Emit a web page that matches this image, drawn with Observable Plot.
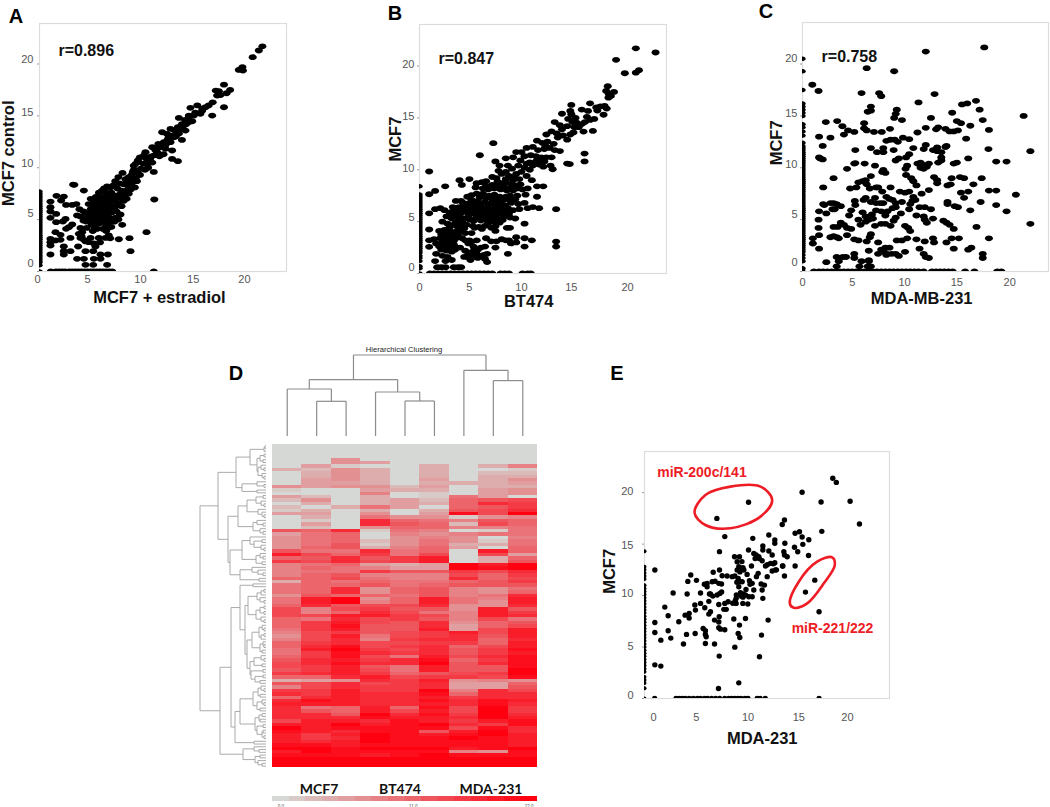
<!DOCTYPE html>
<html><head><meta charset="utf-8">
<script src="https://cdn.jsdelivr.net/npm/d3@7"></script>
<script src="https://cdn.jsdelivr.net/npm/@observablehq/plot@0.6"></script>
<style>
html,body{margin:0;background:#fff}
#page{position:relative;width:1050px;height:807px;overflow:hidden;font-family:"Liberation Sans",Arial,sans-serif}
#page svg{position:absolute;background:transparent}
.lab{position:absolute;transform:translate(-50%,-50%);white-space:nowrap;color:#000;font-weight:700}
</style></head><body><div id="page"></div>
<script>
// ---------- Panel A: MCF7 + estradiol vs MCF7 control
const ptsA=[[21.75,21.7],[21.4,21.3],[20.8,20.65],[19.8,19.7],[19.45,19.43],[19.85,19.36],[19.65,19.5],[18,18],[18.6,17.5],[18.25,17.18],[17.2,17.44],[17.5,17.37],[17.33,16.95],[18,15.83],[17.66,17],[16.85,15.03],[16.9,16.3],[16.5,16],[16.2,15.83],[15.87,15.5],[15.4,16],[15.7,15.2],[14.73,15.77],[15.06,15.03],[14.57,15.03],[13.6,14.8],[14.9,14.48],[14.4,14.39],[14.08,14.07],[13.76,13.74],[14.24,13.58],[13.43,13.42],[12.78,13.74],[11.97,13.42],[12.45,13.26],[13.1,12.94],[13.9,12.68],[12.78,12.46],[12.13,12.46],[11.8,11.98],[11,11.98],[12.29,11.82],[12.94,11.66],[11.48,11.5],[10.34,11.5],[12.1,11.3],[11.7,11.1],[12.94,10.85],[13.5,10.63],[14.6,14.9],[14.2,14.6],[13.9,14.2],[13.5,13.9],[13.2,13.6],[12.9,13.1],[12.5,12.7],[12.3,12.2],[11.9,12.0],[11.5,11.9],
[11.2,11.2],[10.9,11.1],[10.7,10.6],[11.0,10.5],[10.4,10.9],[10.1,10.4],[10.2,11.2],[9.8,11.0],[9.6,10.7],[9.4,10.4],[9.9,9.9],[10.3,9.8],[10.6,10.0],[11.15,9.6],[9.6,9.5],[9.2,9.8],[9.0,9.3],[9.4,9.0],[9.8,9.3],[8.7,9.1],[8.4,8.9],[8.1,9.5],[7.7,9.1],[7.4,8.7],[7.8,8.5],[8.2,8.4],[8.6,8.3],[9.0,8.5],[9.3,8.1],[8.9,7.9],[8.4,7.7],[8.0,7.8],[7.6,8.0],[7.2,8.3],[6.9,8.1],[6.6,8.2],[6.3,8.0],[7.0,7.6],[7.4,7.3],[7.8,7.1],[8.3,7.2],[8.7,7.5],[7.2,7.0],[7.6,6.6],[6.9,7.1],[6.5,7.6],[6.1,7.8],[5.8,7.6],[5.5,7.2],
[5.0,7.0],[5.3,6.7],[5.6,6.9],[5.9,6.6],[6.2,7.2],[6.4,6.8],[6.7,6.5],[7.0,6.3],[7.3,6.1],[7.1,5.7],[7.5,5.8],[7.9,5.5],[6.8,5.9],[6.5,6.2],[6.2,6.4],[5.9,6.1],[5.6,6.3],[5.3,6.2],[5.0,6.0],[4.8,6.5],[4.6,5.6],[4.9,5.4],[5.2,5.6],[5.5,5.8],[5.8,5.5],[6.1,5.7],[6.4,5.5],[6.7,5.3],[7.0,5.0],[7.4,5.2],[6.2,5.2],[5.9,5.0],[5.6,5.2],[5.3,5.0],[5.0,4.9],[4.6,4.8],[4.3,4.9],[4.0,5.3],[4.3,5.8],[5.1,4.5],[5.4,4.6],[5.8,4.6],[6.1,4.8],[6.4,4.9],[6.8,4.7],[7.0,4.3],[6.5,4.4],[6.2,4.1],[5.6,4.1],[6.5,3.9],[6.9,3.2],[7.3,4.8],[6.0,7.1],[6.3,6.9],[5.7,6.6],[7.7,6.4],[8.2,6.8],[8.5,7.0],[8.0,6.3],[3.6,6.5],[3.9,6.0],
[11.2,6.94],[10.44,3.79],[8.88,1.96],[8.78,3.21],[7.74,3.11],[8.07,4.5],[7.84,5.46],[7.7,5.0],
[3.28,8.38],[3.4,8.35],[4.33,7.8],[1.66,7.29],[2.37,7.22],[2.11,6.84],[1.07,6.74],[2.6,6.42],[3.19,6.42],[1.07,6.2],[1.07,5.78],[1.63,5.55],[1.07,5.17],[2.54,5.07],[1.63,4.75],[2.28,4.82],[3.67,5.4],[3.19,4.53],[2.86,4.27],[2.6,4.11],[1.56,3.79],[2.05,3.53],[4,4.2],[4.16,3.79],[3.84,3.63],[1.07,3.15],[1.07,2.83],[1.07,2.5],[1.56,2.99],[2.05,3.05],[3.02,3.24],[4,3.24],[3.77,2.41],[2.37,2.41],[2.37,1.96],[2.37,1.64],[3.02,1.96],[1.07,1.64],[3.67,1.22],[4.33,1.22],[4.49,1.96],[5.24,1.96],[5.3,1.22],[4.49,0.64],[5.24,0.64],[5.95,1.64],[6.67,1.64],[5.95,1.22],[6.6,0.64],[5.46,2.41],[4.81,2.83],[4.33,3.05],[4.98,3.24],[5.79,3.24],[6.44,3.24],[6.76,3.47],[4.6,4.2],[5.2,3.9],[4.1,3.4],[4.5,2.9],[5.3,2.7],[5.9,2.8]];
const moreA=[[12.6,12.9],[13.3,13],[13.6,13.3],[14.3,14.2],[14.6,14.4],[15.2,15.3],[15.9,15.7],[11.3,11.7],[11.6,12.3],[10.8,10.9],[10.5,10.3],[9.2,10.2],[9.1,9.6],[8.5,8.6],[8.8,8.8],[9.5,8.7],[7.9,7.5],[8.6,7.9],[7.1,7.4],[6.7,7.3],[6,6.8],[6.9,6.7],[7.4,6.8],[6.3,6.1],[6.6,5.7],[5.2,6.5],[5.7,6],[5,5.2],[6,5.3],[4.7,5.2],[5.4,4.2],[6.7,4.2]];
const leftA=[0,0.6,0.9,1.1,1.3,1.5,1.7,1.9,2.1,2.3,2.5,2.7,2.9,3.1,3.3,3.5,3.7,3.9,4.1,4.3,4.5,4.7,4.9,5.1,5.3,5.5,5.7,5.9,6.1,6.3,6.5,6.7,6.9,7.1,7.3,7.5,7.7];
const bottomA=[1.1,1.6,1.9,2.2,2.5,2.9,3.2,3.5,3.8,4.1,4.4,4.7,5.0,5.3,5.6,5.9,6.2,6.5,6.8,7.1,11.15];
// ---------- Panel B: BT474 vs MCF7
const ptsB=[[20.8,21.7],[22.7,21.3],[18.9,20.6],[19.74,19.3],[20.8,19.36],[21.1,19.6],[18.1,18.05],[17.95,17.6],[18.7,17.5],[18.2,17.3],[18.4,17.1],[18.17,16.95],[14.6,16.25],[16.4,16.4],[15.6,15.8],[16.2,15.67],[17,16],[17.4,16.1],[17.8,16.15],[17.1,15.7],[18,15.9],[17.7,15.3],[16.1,15.1],[16.8,14.9],[16.4,14.8],[16.67,13.74],[15.77,13.68],[15,15],[14.5,15.67],[14.6,15.35],[13.7,15.4],[15.1,14.55],[15.6,14.4],[15.3,14.1],[14.8,13.6],[14.5,13.4],[14.2,12.9],[13,14.6],[13.5,14.3],[14.2,14.2],[14.7,14.6],[12.7,13.7],[12.2,13.4],[13.2,13.5],[13.7,13.9],[7.1,12.56],[5.8,11.4],[0.93,9.83],[13.14,6.2],[13.14,3.08],[13.14,2.6],[15.87,11.56],[15.87,10.8],[14.2,10.6],[14.45,10.55],[12.6,10.4],[12.8,10.05],[13.5,11.8],[11.3,12.8],[11.8,12.6],[12.3,12.7],[12.9,12.5],[12.5,12.1],[13,11.9],[12,12],[11.4,11.9],[10.9,12.2],[10.3,12.1],[9.3,11.7],[9.8,11.7],[10.1,11.3],[10.7,11.4],[11.2,11.3],[11.7,11.2],[12.2,11.2],[12.7,11.2],[11.2,10.8],[10.6,10.7],[9.7,10.9],[9,11.2],[8.3,11.1],[7.3,10.8],[7.7,10.4],[8.5,10.4],[8.9,10.1],[9.5,10.4],[10.1,10.2],[10.6,10],[11.5,10.5],[11.9,10.3],[9.8,9.8],[9.3,9.6],[8.3,9.8],[7.6,9.9],[7,9.3],[7.4,9.2],[7.9,9.6],[8.6,9.4],[9,9],[9.6,9.1],[10.3,9.4],[10.8,9],[11.3,8.4],[11.9,8.4],[8.8,8.6],[8.3,8.8],[7.9,8.7],[9.3,8.5],[9.7,8.6],[3.85,9],[4.8,9.1],[2.47,8.4],[4.07,8.54],[1.5,7.96],[0.93,7.64],[5.5,8.7],[6,8.8],[6.4,8.9],[5.4,8.3],[6.1,8.2],[6.6,8.1],[7.2,8.2],[7.8,8.1],[8.4,8],[9,8],[5.5,7.7],[6.1,7.7],[6.7,7.5],[7.2,7.6],[7.7,7.4],[8.3,7.4],[8.7,7.5],[9.4,7.5],[10.2,7.6],[11.3,7.4],[4.6,7.4],[5,7.1],[4,7],[3.5,7],[5.6,7],[6.3,6.9],[7,6.9],[7.6,6.8],[8.2,6.6],[8.8,6.8],[9.5,6.7],[10.1,6.8],[10.4,6.3],[10.9,6.4],[11.5,6.3],[3.2,6.4],[3.8,6.4],[4.3,6.5],[4.9,6.5],[5.5,6.4],[6,6.3],[6.6,6.2],[7.2,6.3],[7.8,6.2],[8.4,6],[9,6.1],[9.6,6.2],[1.5,6.2],[2,6.3],[2.4,6.1],[2.9,5.9],[3.4,5.8],[4,5.8],[4.6,5.9],[5.2,5.8],[5.8,5.7],[6.4,5.7],[7,5.6],[7.5,5.7],[8.1,5.5],[8.7,5.4],[9.2,5.3],[2.6,5.5],[3.1,5.3],[3.6,5.2],[4.2,5.3],[4.8,5.2],[5.4,5.3],[5.9,5.1],[6.5,5.1],[7.1,5],[7.7,4.9],[2.2,5],[2.7,4.8],[3.3,4.7],[3.9,4.7],[4.5,4.7],[5.1,4.6],[5.7,4.5],[6.3,4.6],[6.9,4.4],[7.3,4.1],[8.4,4.4],[8.7,4.4],[10.1,4.8],[0.93,5.8],[0.93,4.24],[1.9,4.1],[2.4,4.2],[2.9,4.1],[3.4,4],[3.9,4.1],[4.4,3.9],[5,3.9],[2.4,3.6],[3,3.5],[3.5,3.4],[4.1,3.4],[2,3.4],[1.4,3.3],[0.93,3.2],[0.93,2.57],[1.6,2.9],[2.2,3],[2.7,2.9],[3.3,2.8],[4.8,3.2],[5.5,3.2],[6.4,3.4],[6.9,3.1],[7.4,3.1],[7.9,3.3],[8.3,3.2],[8.6,3.2],[8.8,2.9],[9.3,3.5],[9.3,3],[10.1,3.4],[10.8,3.2],[10.1,2.6],[7.3,2.5],[3.6,2.5],[3.9,2.5],[4.7,2.9],[5.2,2.6],[5.9,2.5],[6.3,2.6],[2.1,2.3],[2.6,2.2],[3.1,2.1],[1.6,1.9],[2.2,1.7],[2.7,1.6],[3.1,1.3],[2.5,1.2],[1.5,1.2],[4.3,1.6],[4.7,1.9],[5.1,2.1],[5.5,1.9],[5.8,1.7],[6.2,1.8],[4.6,1.6],[5.1,1.6],[5.6,1.5],[6.3,1.4],[6.5,1.9],[6.5,1.1],[8.5,1.9],[1.7,0.6],[2.1,0.6],[2.5,0.6],[3.3,0.6],[3.7,0.6],[4,0.6]];
const moreB=[[3.7,4.45],[4.3,4.35],[5.3,4.4],[6,4.3],[6.6,4.85],[7.3,4.55],[2.9,4.45],[3.5,4.95],[4.1,5],[4.7,5.5],[5.2,5.05],[5.7,5.45],[6.3,5.4],[6.8,5.35],[7.4,5.3],[8,5.15],[8.6,5.75],[3.1,5.6],[3.7,5.5],[3.3,6.1],[3.9,6.15],[4.5,6.15],[5.1,6.2],[5.7,6.05],[6.3,6.05],[6.9,5.95],[7.5,6],[8.1,5.85],[4.7,6.75],[5.3,6.75],[5.9,6.65],[6.6,6.6],[7.3,6.6],[7.9,6.5],[8.5,6.3],[4.2,6.8],[5,7.55],[5.8,7.35],[6.4,7.25],[7,7.25],[7.5,7.1],[8,7.05],[8.6,7.1],[9.2,7.15],[6.4,8.45],[7,8.55],[7.6,8.45],[8.1,8.35],[8.7,8.25],[9.4,8.2],[9.9,8.1],[10.4,8.2],[9.1,9.3],[8.3,9.1],[7.5,8.85],[10.3,10.6],[10.9,10.4],[11.5,11],[12,10.8],[2.5,3.95],[3.1,3.8],[3.7,3.7],[2.1,3.75],[2.7,3.3],[3.3,3.15],[4.4,3.2],[5,3.05],[1.9,2.6],[2.4,2.6],[2.9,2.5],[3.4,2.3],[4.4,2.2],[5.6,2.3],[4.9,1.3],[5.3,2.4],[15.9,14.6],[14.3,14.9],[13.3,13.1],[13.8,13.3],[14.9,14.1],[12.1,12.3]];
const leftB=[0,0.5,0.7,1.2,1.5,1.7,2,2.2,2.4,2.6,2.8,3,3.2,3.4,3.6,3.8,4,4.2,4.4,4.6,4.8,5,5.2,5.4,5.6,5.8,6,6.2,6.4,6.6,6.8,7,7.2,7.4,7.6,8.4];
const bottomB=[1,1.4,1.8,2.2,2.6,3,3.4,3.8,4.2,4.6,5,5.4,5.8,6.2,6.6,7,7.8,8.2,8.6,9.9,10.4,10.7];
// ---------- Panel C: MDA-MB-231 vs MCF7
const ptsC=[[17.55,21.6],[11.9,21.2],[6.2,19.6],[8.85,19.3],[0.95,18],[1.55,17.4],[5.7,17.2],[7.4,17.2],[7.6,16.9],[12.75,17.1],[6.6,15.9],[6.6,15.5],[6.3,15.4],[11.2,16.3],[15.4,16.1],[15.9,16.2],[16.75,16.45],[17.1,15.6],[17.4,14.6],[21.35,15],[9.1,15.6],[9,15.2],[8.85,14.8],[9.6,14.6],[12.4,14.8],[14.45,15.3],[14.9,14.5],[15.3,14.3],[16.2,14.05],[2.25,14.4],[3.35,14.5],[3.85,14],[4.4,13.6],[4,13.2],[5,13.45],[5.95,14.3],[5.95,13.8],[6.2,13.6],[6.9,13.45],[7.65,13.45],[8.45,13.75],[11.1,13.4],[11.9,13.85],[12.9,13.7],[13.1,13.9],[13.8,13.75],[14.2,13.5],[14.6,13.5],[15,13.6],[15.8,12.8],[18,13.65],[17.95,11.8],[22,11.6],[1.6,13],[2.7,12.9],[1.95,12.1],[8.1,12.6],[8.5,12.7],[8.9,12.7],[9.2,12.5],[9.7,12.9],[10.3,12.75],[5.1,11.7],[6.6,11.9],[7.2,11.5],[7.8,11.9],[7.8,11.5],[8.8,11.7],[10.7,11.9],[11.7,11.8],[11.9,12.2],[12.6,11.7],[13,11.95],[13,11.6],[13.4,11.5],[13.8,12],[13.9,12.1],[13.4,11],[13.4,10.7],[11.6,10.3],[1.6,11],[1.7,10.9],[1.95,10.8],[5,10.4],[5.1,10.45],[6,10.4],[7,10.2],[9,10.7],[9.3,10.9],[10,11],[10.3,11.3],[10.1,10.2],[9.95,9.9],[10,9.3],[11.1,10.4],[11.4,10.5],[11.4,10],[11.7,9.9],[12,10.1],[12.2,10.4],[13.1,10.5],[14.6,10.4],[14.9,10.5],[16,10.9],[18.7,10.6],[19.7,10.6],[3,9],[4.3,9.9],[6.1,8.8],[6.6,9.2],[7.7,9.6],[7.8,9.8],[8,9.5],[10.5,9],[10.7,8.7],[11,8.3],[12.7,9.1],[13,8.8],[13,8.5],[14,8.3],[14.3,8.4],[14.4,9],[15.2,9.1],[15.6,9],[17.3,9],[2,8.1],[4.6,8],[5.2,8.1],[5.4,8.6],[5.8,8.7],[6.2,8.4],[6.5,8],[7.1,8.1],[7.3,8.1],[7.7,7.7],[8.5,8.1],[9.4,7.7],[9.9,7.6],[10.3,7.7],[10.7,7.2],[10.9,6.9],[11.5,7.5],[12.2,7.85],[15.3,7.6],[15.6,7.1],[16,7.7],[16.5,8.4],[18,7.8],[18.7,7.8],[20.6,7.4],[2,6.5],[2.1,6.4],[2.7,6.6],[3,6.6],[3.3,6.5],[3.7,6.3],[5.05,6.8],[5.1,6.4],[5.9,6.9],[6.1,7.1],[6.6,6.7],[7,7.1],[7.1,6.6],[7.5,6.6],[7.8,6.6],[8.1,7.2],[8.4,7],[8.7,6.9],[9,6.6],[9.6,6.7],[10.4,6.5],[10.6,6.8],[11.3,6.2],[11.8,6.2],[14,6.7],[14,6.5],[14.7,6.3],[15,6.2],[17.2,6.7],[18.7,6.4],[16.2,5.9],[1.6,5.8],[2.3,5.6],[2.9,6],[3.1,6],[4.7,5.9],[4.5,5.4],[5.8,5.7],[6.1,5.3],[6.7,5.5],[7.1,5.9],[7.6,5.8],[8,5.4],[8.2,5.8],[8.7,6.1],[9,6.2],[9.5,5.6],[10.3,6],[11,5.4],[11.7,5.3],[12.4,6],[19.7,5.8],[1.55,5],[3,4.3],[3.4,4.3],[3.7,4.7],[4,4.5],[4.3,4.2],[4.7,4.1],[5.4,5],[5.6,4.5],[6.1,4.8],[6.4,5],[6.8,5.1],[7,4.4],[7.6,4.6],[8,4.6],[8.5,4.4],[8.8,4.9],[9,5.2],[9.9,4.4],[10.2,4.2],[10.4,3.9],[11.8,5],[12,4.7],[12.6,5.1],[13.6,4.9],[13.9,4.7],[14.2,4.5],[14.6,4.1],[16.8,4.3],[22,4.6],[1.55,4.2],[1.6,3.5],[1,3.2],[1,2.7],[1.6,2.2],[2.7,3.3],[3,3.4],[3.3,3.3],[3.5,3.2],[4.3,3.5],[5,3.1],[5.4,3],[6.2,2.9],[6.5,3.3],[6.6,3.6],[7.3,2.8],[9.1,3],[9.6,3],[10.1,3.2],[11,3.1],[11.8,2.9],[12.6,3.2],[12.7,2.8],[13.9,2.8],[14.4,3.2],[14.6,2.2],[15.1,3.2],[16,2.1],[16.3,2.3],[18,3.2],[7.6,2.1],[8,2.3],[8.4,2.3],[8,1.8],[6.4,2],[7.3,1.7],[8.1,1.6],[8.6,1.7],[9,1.7],[9.3,1.5],[9.9,1.9],[11.3,2.2],[11.7,1.7],[11.9,1.4],[12.2,1.3],[17.4,1.7],[17.4,1.3],[3.3,1.4],[3.5,1],[3.9,1.4],[4.2,1.4],[5,1.7],[5,1.3],[5.7,1],[6.4,1],[6.4,1.1],[2.3,0.9],[3.3,0.5],[5.5,0.5],[6.3,0.5],[6.6,0.5]];
const leftC=[0,0.3,1,1.3,1.6,1.9,2.1,2.3,2.5,2.7,2.9,3.1,3.3,3.5,3.7,3.9,4.1,4.3,4.5,4.7,4.9,5.1,5.3,5.5,5.7,5.9,6.1,6.3,6.5,6.7,6.9,7.1,7.3,7.5,7.7,7.9,8.1,8.3,8.5,8.7,8.9,9.1,9.3,9.5,9.7,9.9,10.1,10.3,10.5,10.7,10.9,11.1,11.3,11.5,11.7,11.9,12.1,12.4,13.1,13.5,13.9,14.2,15,15.3,15.6,15.9,16.2,17.5,19.3,20.5];
const bottomC=[1.1,1.6,2,2.4,2.8,3.2,3.6,4,4.4,4.8,5.2,5.6,6,6.4,6.8,7.2,7.6,8,8.4,8.8,9.2,9.6,10,10.4,10.8,11.2,11.7,12.5,12.9,13.3,13.7,14.1,14.5,15.7,16.6,18.8,19.2];
// ---------- Panel E: MDA-231 vs MCF7
const ptsE=[[7.13,17.5],[10.25,19.07],[15.53,20.04],[18.55,21.4],[18.9,21],[17.4,19.1],[20.26,19.16],[21.18,16.95],[17.47,16.24],[16.19,15.43],[16.16,13.9],[17.2,8.43],[16.78,11.5],[15.86,10.34],[13.79,17.35],[13.57,16.9],[14.84,16.05],[15.27,16.2],[15.53,15.69],[14.78,14.69],[15.6,14.98],[15.1,14.26],[14.84,12.87],[13.79,11.9],[13.6,12.87],[1.02,12.48],[1.02,7.39],[1.02,6.42],[1.61,5.67],[1.02,3.27],[1.61,3.15],[2.82,10.25],[2,8.88],[2.33,8.04],[2.33,6.58],[2.59,5.87],[3.38,7.46],[3.84,5.29],[4.14,6.23],[4,8.1],[4.4,8.27],[4.4,7.81],[4.2,10.15],[4.27,11.38],[4.56,12],[5.12,11.48],[4.99,6.32],[5.52,10.25],[4.96,9.08],[5.02,8.59],[5.52,9.24],[5.94,8.82],[6.34,9.44],[6.5,8.43],[6.34,8.2],[6.17,11.19],[6.17,10.86],[6.77,12.26],[6.67,11.35],[6.5,10.15],[6.73,9.95],[5.78,6.81],[6,6.58],[6,6.23],[6.08,6],[6,5.35],[6.9,5.29],[6.9,7.62],[7.32,7.43],[7.32,6.87],[7.49,6.74],[7.91,6.68],[7.36,7.94],[7.32,9.14],[7.91,9.24],[7.82,8.66],[8.05,8.66],[8.24,9.4],[7.39,12.48],[7.65,11.93],[7.32,11.19],[7.59,11.12],[7.42,10.21],[7.16,10.05],[8.14,11.9],[8.64,11.84],[7.39,14.27],[7.91,15.73],[7.36,4.12],[7.29,0.97],[8.8,7.72],[9.36,7.13],[9.95,7.78],[9.23,6.32],[9.39,5.93],[8.9,4.99],[9.29,1.52],[11.33,4.05],[11.53,6.16],[12.18,7.62],[9.03,9.24],[9.03,9.73],[8.87,13.78],[9.36,13.78],[9.13,13.29],[9.29,12.81],[9.46,12.65],[9.79,12.48],[10.11,12.06],[9.13,12.48],[9.23,11.67],[9.36,11.35],[9.29,10.86],[9.62,11.35],[10.34,11.45],[10.61,11.19],[10.54,12.87],[10.25,14.43],[10.67,15.56],[10.77,14.1],[11,13.94],[11.26,13.78],[11.2,12.16],[11.03,11.84],[9.46,10.28],[9.72,10.15],[9.95,10.05],[10.28,9.89],[10.61,9.89],[10.77,10.54],[9.69,9.24],[10.18,9.18],[11.49,11.12],[11.82,11.02],[11.59,10.54],[11.66,9.73],[12.09,11.84],[11.92,12.87],[12.58,12.39],[12.91,12.48],[12.41,13.13],[12.84,13.2],[11.66,14.82],[11.66,14.43],[12.25,14.33],[12.25,15.89],[12.84,15.4],[12.84,15.08],[12.58,13.94],[11.59,13.39],[13.73,14.27],[13.79,13.94],[14.06,13.78],[13.63,12.87],[13.83,15.08],[9.7,9.85],[9.5,9.95],[10,10.6],[8.7,9.25],[8.95,9.5],[9.05,10.05],[9.4,12.3],[9.7,12.7],[9.1,11.3],[10.4,11.1],[10.9,13.6],[11.3,13.6],[12.1,13],[12.7,13.1],[13,12.5],[5.9,11.1],[6.4,10.15],[7.6,10.35],[6.95,11.4],[9.6,13.3],[8.9,11.9]];
const leftE=[0,1,1.5,1.8,2.1,2.6,2.9,3.2,3.5,3.8,4.1,4.4,4.7,5,5.3,5.6,5.9,6.2,6.5,6.8,7.1,7.4,7.7,8,8.3,8.6,8.9,9.2,9.5,9.8,10.1,10.4,10.7,11,11.6,11.9,12.2,12.5,12.8,14.3];
const bottomE=[1,3.1,3.4,3.7,4,4.4,4.8,5.2,5.5,5.9,6.2,6.6,7,7.4,7.9,8.3,8.6,8.9,9.2,9.5,9.9,10.2,11.1,11.4,11.9,17.2];
const ringMiR200=[[4.93,18.06],[6,19.78],[8.47,20.59],[11.43,20.59],[12.58,19.29],[11.43,17.67],[8.47,16.54],[6,16.86]];
const ringMiR221=[[14.32,9.24],[15.2,11.35],[17.01,13.29],[18.49,13.72],[18.75,12.97],[17.67,11.19],[16.03,9.24],[14.71,8.82]];
const ticks=[0,5,10,15,20];
// ---------- Panel D: heat map, one row per string, one hex digit (0 grey ... f red) per sample
const heatRows=["000000000","000000000","000000000","000000000","005000000","005400000","041003036","325303001","035303022","035303033","045304035","044303334","545524033","100433045","000601045","420301740","25034289a","0303438cb","20374089b","1303039ac","440504eaf","030755156","010c87698","040c982a8","020588667","98c176017","478065677","578056506","578257517","579157337","589368408","977c780d8","da8b7a0a4","89c9bd038","bacabd039","678434fdf","687644fef","677b99bac","689666a8b","88a766c8a","38787789b","788978999","78c589657","78c589658","59887967c","7df58d76d","7df68d75d","8c9aac55c","a6ab995d9","a68ca76db","aaddba6dc","87cab96a7","8bda9c589","8be99c48a","7bd99d4ad","6ab9abdad","5ad7abc9d","6ac6bcc8c","8bcaabb8d","8ceabc8ad","7dfbac9be","7becbc9bd","8bea7dace","9cdbce8be","aceccf9ce","abd97d99e","9bda7d99f","bcdb89abf","88cdabbae","345cbd565","9acabc448","6acbbc449","bbdbbf6ca","cbdcce8cc","8cdccdbcc","cedcceced","dddccdcec","c78d8eafb","c98dadafb","cc9fcebfc","ccceddcfd","addcedbde","ddfdefcbe","fdeeeeaec","edcee9dfc","dbdfedefd","dbcfeefed","dcdfeeeed","eedeeeeed","ffefffdef","dfeeee65e","eeedefeee","fffffffff","fffffffff","fffffffff"];
const sampleIds=d3.range(9);
const heatCells=heatRows.flatMap((row,r)=>sampleIds.map(c=>({c,r,v:parseInt(row[c],16)})));
const barSteps=[0,1,2,3,4,5,6,7,8,9,10,11,12,13,14,15];
const barLabels=["0.0","11.0","22.0"];
const groupNames=["MCF7","BT474","MDA-231"];
// column tree: [height, child, child], 0 = a leaf
const colTree=[81,[56.4,[47,0,[34.7,0,0]],[44,0,[35,0,0]]],[65.7,0,[55.4,0,0]]];
// row tree: [distance, child, child], 0 = a leaf
const p=(d)=>[d,0,0];
const rowTree=[66,
 [48,
  [30,[16,[2,p(1),0],[9,[6,p(2),[3,0,0]],[8,[5,0,p(2)],[4,0,p(2)]]]],[24,[9,0,p(2)],p(9)]],
  [38,
   [28,[19,[10,p(3),[5,0,p(2)]],[8,0,[4,0,p(2)]]],[13,[9,0,p(3)],[6,0,p(3)]]],
   [36,[24,[16,0,[12,p(4),[5,0,p(2)]]],[10,[6,0,p(3)],p(4)]],[26,[14,0,[8,0,p(3)]],p(7)]]]],
 [46,
  [35,
   [26,[13,0,0],
    [21,[18,[9,[5,p(2),0],[6,0,p(2)]],[10,[6,p(2),p(2)],[5,0,p(2)]]],
     [19,[14,[7,[4,0,p(2)],[5,p(2),0]],[6,[3,0,p(2)],[4,0,0]]],[16,[12,[5,0,p(2)],p(4)],[15,p(3),[11,p(3),p(6)]]]]]],
   [31,[26,[13,[8,[5,0,p(2)],[6,0,0]],[9,[4,0,p(2)],p(6)]],[11,[7,[4,0,0],p(6)],[9,p(3),[4,[3,0,0],p(2)]]]],p(12)]],
  [23,[12,0,[7,0,0]],[11,[6,0,0],[8,0,p(4)]]]]];
// ---------- drawing
const page=document.getElementById("page");
const sans="Liberation Sans, Arial, sans-serif";
function add(el,x,y,blur){el.style.left=x+"px";el.style.top=y+"px";if(blur)el.style.filter=`blur(${blur}px)`;page.append(el);}
function label(t,x,y,size,extra={}){const d=document.createElement("div");d.className="lab";d.textContent=t;d.style.left=x+"px";d.style.top=y+"px";d.style.fontSize=size+"px";Object.assign(d.style,extra);page.append(d);}
const oval=(rx,ry)=>({draw(c){const k=0.5523;c.moveTo(rx,0);c.bezierCurveTo(rx,ry*k,rx*k,ry,0,ry);c.bezierCurveTo(-rx*k,ry,-rx,ry*k,-rx,0);c.bezierCurveTo(-rx,-ry*k,-rx*k,-ry,0,-ry);c.bezierCurveTo(rx*k,-ry,rx,-ry*k,rx,0);c.closePath();}});
function scatter(s){
  const ml=50,mr=4,mt=4,mb=52;
  const body=[...s.pts,...s.bottom.map(x=>[x,0])];
  const edge=s.left.map(y=>[0,y]);
  const txt=(t,x,y,o)=>Plot.text([t],{x:()=>x,y:()=>y,fontFamily:sans,...o});
  const svg=Plot.plot({width:s.w+ml+mr,height:s.h+mt+mb,marginLeft:ml,marginRight:mr,marginTop:mt,marginBottom:mb,
    x:{domain:s.xd,range:[ml,ml+s.w],axis:null},y:{domain:s.yd,range:[mt+s.h,mt],axis:null},
    marks:[
      Plot.frame({stroke:"#dcdcdc",strokeWidth:1.2}),
      Plot.axisY({ticks,tickSize:2,tickFormat:()=>"",stroke:"#999"}),
      Plot.dot(edge,{x:d=>d[0],y:d=>d[1],r:s.edgeR,fill:"#000",stroke:"none",symbol:s.edgeSymbol,clip:"frame"}),
      Plot.dot(body,{x:d=>d[0],y:d=>d[1],r:s.r0,fill:"#000",stroke:"none",symbol:s.symbol,clip:"frame"}),
      ...(s.extra||[]),
      Plot.text(ticks,{x:(d,i)=>s.xLab[i],y:()=>s.yd[0],text:d=>String(d),dy:s.xLabDy,fontSize:11,fill:"#555",fontFamily:sans}),
      Plot.text(ticks,{x:()=>0,y:(d,i)=>s.yLab[i],text:d=>String(d),dx:s.yLabDx,textAnchor:"end",fontSize:11,fill:"#555",fontFamily:sans}),
      txt(s.xTitle,s.xTitleAt,s.yd[0],{dy:s.xTitleDy,fontSize:16.5,fontWeight:"bold",fill:"#111"}),
      txt(s.yTitle,0,s.yTitleAt,{dx:s.yTitleDx,rotate:-90,fontSize:16.5,fontWeight:"bold",fill:"#111"}),
      s.r?txt(s.r,s.rAt[0],s.rAt[1],{textAnchor:"start",fontSize:16,fontWeight:"bold",fill:"#111"}):null
    ]});
  add(svg,s.l-ml,s.t-mt);
}
const ov=oval(4,2.9), ovEdge=oval(3.2,2.3);
const ovalKit={symbol:ov,edgeSymbol:ovEdge,r0:3,edgeR:3};
scatter({...ovalKit,pts:[...ptsA,...moreA],left:leftA,bottom:bottomA,l:39,t:23,w:247,h:248,xd:[0,24.1],yd:[0,23.9],xLab:[-0.2,4.7,9.85,15,20],xLabDy:8,yLab:[0.77,5.6,10.4,15.35,20.45],yLabDx:-6,
  xTitle:"MCF7 + estradiol",xTitleAt:11.7,xTitleDy:26,yTitle:"MCF7 control",yTitleAt:11.4,yTitleDx:-31,r:"r=0.896",rAt:[1.85,21.3]});
scatter({...ovalKit,pts:[...ptsB,...moreB],left:leftB,bottom:bottomB,l:419,t:24,w:247,h:249,xd:[0,23.75],yd:[0,24],xLab:[0,4.8,9.8,14.6,20],xLabDy:13.5,yLab:[0.57,5.4,10.1,15.1,20.1],yLabDx:-5,
  xTitle:"BT474",xTitleAt:10.5,xTitleDy:28,yTitle:"MCF7",yTitleAt:12.95,yTitleDx:-24,r:"r=0.847",rAt:[1.83,20.7]});
scatter({...ovalKit,pts:ptsC,left:leftC,bottom:bottomC,l:802,t:22,w:246,h:249,xd:[0,23.75],yd:[0,24],xLab:[0,4.8,9.85,14.9,20],xLabDy:11,yLab:[0.84,5.5,10.3,15.2,20.5],yLabDx:-5,
  xTitle:"MDA-MB-231",xTitleAt:11.5,xTitleDy:27,yTitle:"MCF7",yTitleAt:12.4,yTitleDx:-26,r:"r=0.758",rAt:[1.84,20.7]});
const ringMark=r=>Plot.line(r,{x:d=>d[0],y:d=>d[1],curve:"catmull-rom-closed",stroke:"#ee1c25",strokeWidth:2.6,fill:"none"});
const redTxt=(t,x,y)=>Plot.text([t],{x:()=>x,y:()=>y,textAnchor:"start",fill:"#ee1c25",fontSize:14,fontWeight:"bold",fontFamily:sans});
scatter({pts:ptsE,left:leftE,bottom:bottomE,l:644,t:451,w:245,h:247,xd:[0,24.14],yd:[0,24],symbol:"circle",edgeSymbol:"circle",r0:2.7,edgeR:2,xLab:[0.9,5.1,10.2,15.2,20],xLabDy:19,yLab:[0.25,5.1,10.16,14.86,20.16],yLabDx:-11,
  extra:[ringMark(ringMiR200),ringMark(ringMiR221),redTxt("miR-200c/141",1.25,22),redTxt("miR-221/222",14.5,6.8)],
  xTitle:"MDA-231",xTitleAt:11.6,xTitleDy:40,yTitle:"MCF7",yTitleAt:12.35,yTitleDx:-35});
// tree layout from the nested lists
function layout(tree){let n=0;const segs=[];
  (function walk(t){if(t===0){const pos=n+0.5;n++;return{pos,d:0};}
    const a=walk(t[1]),b=walk(t[2]),pos=(a.pos+b.pos)/2;
    segs.push({p1:a.pos,d1:t[0],p2:b.pos,d2:t[0]},{p1:a.pos,d1:a.d,p2:a.pos,d2:t[0]},{p1:b.pos,d1:b.d,p2:b.pos,d2:t[0]});
    return{pos,d:t[0]};})(tree);
  return{segs,n};}
const colL=layout(colTree), rowL=layout(rowTree);
// column dendrogram
add(Plot.plot({width:265,height:82,margin:0,x:{domain:[0,9],range:[0,265],axis:null},y:{domain:[0,81],range:[81.5,0.5],axis:null},
  marks:[Plot.link(colL.segs,{x1:"p1",x2:"p2",y1:"d1",y2:"d2",stroke:"#8c8c8c",strokeWidth:1.2})]}),272,354);
// row dendrogram
add(Plot.plot({width:68,height:323,margin:0,x:{domain:[66,0],range:[0.5,66.5],axis:null},y:{domain:[0,rowL.n],range:[0,323],axis:null},
  marks:[Plot.link(rowL.segs,{y1:"p1",y2:"p2",x1:"d1",x2:"d2",stroke:"#a0a0a0",strokeWidth:0.9})]}),199,444);
// heat map
const heatColor={type:"linear",domain:[0,15],range:["#d5d8d4","#ff0010"]};
add(Plot.plot({width:265,height:323,margin:0,x:{domain:sampleIds,axis:null,padding:0,round:false},y:{domain:d3.range(heatRows.length),axis:null,padding:0,round:false},color:heatColor,
  marks:[Plot.cell(heatCells,{x:"c",y:"r",fill:"v",shapeRendering:"crispEdges"})]}),272,444,0.7);
// colour bar
add(Plot.plot({width:265,height:14,marginTop:0,marginBottom:9,marginLeft:0,marginRight:0,x:{domain:barSteps,axis:null,padding:0,round:false},y:{axis:null},color:heatColor,
  marks:[Plot.cell(barSteps,{x:d=>d,fill:d=>d,shapeRendering:"crispEdges"}),Plot.text(barLabels,{frameAnchor:"bottom",x:(d,i)=>barSteps[[0,8,15][i]],dy:6,fontSize:4.5,fill:"#555",fontFamily:sans})]}),272,796);
// labels
[["A",16,16],["B",395,13],["C",766,11],["D",236,373],["E",617,373]].forEach(([t,x,y])=>label(t,x,y,20));
label("Hierarchical Clustering",404,349,7.6,{fontWeight:"400",color:"#222"});
[[groupNames[0],319],[groupNames[1],400],[groupNames[2],491]].forEach(([t,x])=>label(t,x,788,14,{fontFamily:"Lato, sans-serif",color:"#111"}));
</script></body></html>
